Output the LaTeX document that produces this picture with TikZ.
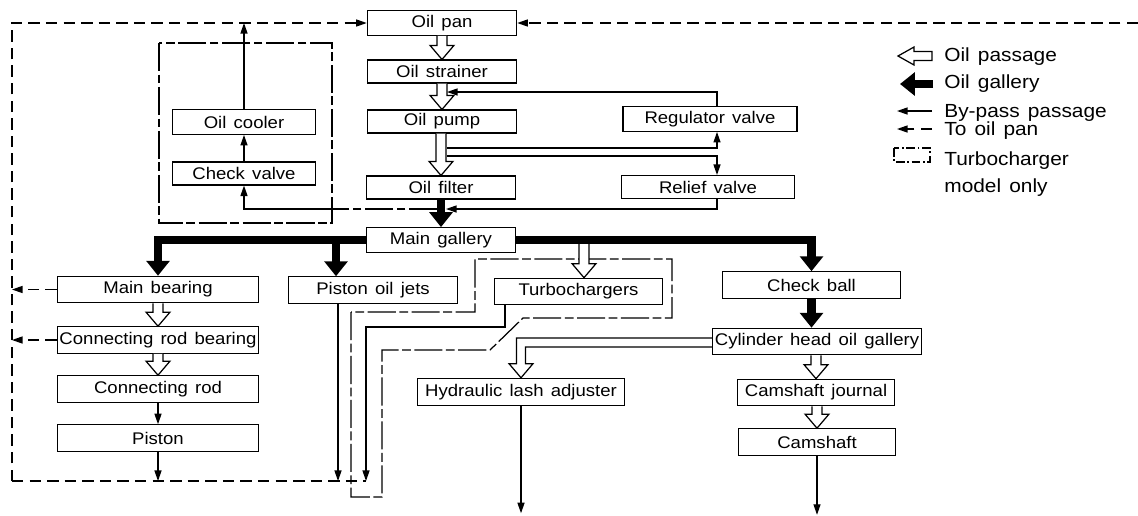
\documentclass[tikz,border=0pt]{standalone}
\usepackage{fontspec}
\setmainfont[FakeStretch=1.1, WordSpace=1.4]{Liberation Sans}
\usetikzlibrary{arrows.meta,calc}

\tikzset{box_style/.style={draw, line width=0.7pt, inner sep=0pt, minimum height=14pt, font=\fontsize{9.6}{11}\selectfont}}
\tikzset{gallery_style/.style={line width=5pt, -{Triangle[width=13pt,length=8.5pt]}}}
\tikzset{bypass_style/.style={line width=0.7pt, -{Triangle[width=4pt,length=6pt]}}}
\tikzset{pan_line/.style={line width=0.7pt, dash pattern=on 6.5pt off 3.5pt}}
\tikzset{return_style/.style={pan_line, -{Triangle[width=4pt,length=6pt]}}}
\tikzset{turbo_style/.style={line width=0.7pt, dash pattern=on 16pt off 2pt on 5pt off 2pt}}
\tikzset{legend_style/.style={anchor=base west, inner sep=0pt, font=\fontsize{10.8}{12}\selectfont}}

% hollow oil passage arrow, pointing down from #1 to #2
\newcommand{\oilpassage}[2]{%
  \draw[line width=0.7pt, fill=white] let \p1=#1, \p2=#2 in
    (\x2-2.8pt,\y1) -- (\x2-2.8pt,\y2+8pt) -- (\x2-6.8pt,\y2+8pt) -- (\x2,\y2)
    -- (\x2+6.8pt,\y2+8pt) -- (\x2+2.8pt,\y2+8pt) -- (\x2+2.8pt,\y1);}

\begin{document}
\begin{tikzpicture}[x=0.02cm, y=-0.02cm]
    \useasboundingbox (0,0) rectangle (1138,515);

    % turbocharger model only
    \draw[turbo_style] (159,43) rectangle (332,223);
    \draw[turbo_style] (351,312) -- (351,497) -- (382,497) -- (382,350) -- (490,350)
        -- (523,318) -- (672,318) -- (672,259) -- (475,259) -- (475,312) -- cycle;

    \node[box_style, minimum width=85pt] (pan) at (442,23) {Oil pan};
    \node[box_style, minimum width=85pt, minimum height=13pt] (strainer) at (442,71.5) {Oil strainer};
    \node[box_style, minimum width=85pt, minimum height=13pt] (pump) at (442,121.5) {Oil pump};
    \node[box_style, minimum width=85pt, minimum height=13pt] (filter) at (441,187.5) {Oil filter};
    \node[box_style, minimum width=84.5pt] (gallery) at (441,240) {Main gallery};
    \node[box_style, minimum width=99pt] (regulator) at (710,119) {Regulator valve};
    \node[box_style, minimum width=98.5pt, minimum height=13pt] (relief) at (708,187) {Relief valve};
    \node[box_style, minimum width=81.5pt] (cooler) at (244,122) {Oil cooler};
    \node[box_style, minimum width=81.5pt, minimum height=13pt] (checkv) at (244,173.5) {Check valve};
    \node[box_style, minimum width=114.5pt, minimum height=15pt] (bearing) at (158,289.5) {Main bearing};
    \node[box_style, minimum width=114.5pt, minimum height=15pt] (rodbearing) at (158,340) {Connecting rod bearing};
    \node[box_style, minimum width=114.5pt, minimum height=15pt] (rod) at (158,389) {Connecting rod};
    \node[box_style, minimum width=114.5pt, minimum height=15pt] (piston) at (158,438) {Piston};
    \node[box_style, minimum width=96pt, minimum height=15pt] (jets) at (373,290) {Piston oil jets};
    \node[box_style, minimum width=96pt, minimum height=15pt] (turbo) at (578.5,291.5) {Turbochargers};
    \node[box_style, minimum width=101.5pt, minimum height=15pt] (checkball) at (811.5,285) {Check ball};
    \node[box_style, minimum width=119pt, minimum height=15pt] (cylhead) at (817,341.5) {Cylinder head oil gallery};
    \node[box_style, minimum width=89.5pt, minimum height=15pt] (journal) at (816,392.5) {Camshaft journal};
    \node[box_style, minimum width=89.5pt, minimum height=15pt] (camshaft) at (817,442) {Camshaft};
    \node[box_style, minimum width=118pt, minimum height=15.5pt] (lash) at (521,392) {Hydraulic lash adjuster};

    \coordinate (ret_tl) at (12,23);
    \coordinate (ret_bl) at (12,481);
    \coordinate (valve_x) at (717,0);
    \coordinate (jets_in) at (336,240);
    \coordinate (jets_x) at (338,0);
    \coordinate (turbo_in) at (584,244);
    \coordinate (turbo_x) at (505,0);

    % oil gallery
    \draw[gallery_style] (filter.south) -- (gallery.north);
    \draw[gallery_style] (gallery.west) -| (bearing.north);
    \draw[gallery_style] (gallery.east) -| (checkball.north);
    \draw[gallery_style] (jets_in) -- (jets_in |- jets.north);
    \draw[gallery_style] (checkball.south) -- (cylhead.north -| checkball.south);

    % oil passages
    \oilpassage{(pan.south)}{(strainer.north)}
    \oilpassage{(strainer.south)}{(pump.north)}
    \oilpassage{(pump.south)}{(filter.north)}
    \oilpassage{(turbo_in)}{(turbo_in |- turbo.north)}
    \oilpassage{(bearing.south)}{(rodbearing.north)}
    \oilpassage{(rodbearing.south)}{(rod.north)}
    \oilpassage{(cylhead.south)}{(journal.north)}
    \oilpassage{(journal.south)}{(camshaft.north)}
    \draw[line width=0.7pt, fill=white] let \p1=(cylhead.west), \p2=(lash.north) in
        (\x1,\y1+2pt) -- (\x2-2.6pt,\y1+2pt) -- (\x2-2.6pt,\y2+8pt) -- (\x2-6.8pt,\y2+8pt) -- (\x2,\y2)
        -- (\x2+6.8pt,\y2+8pt) -- (\x2+2.6pt,\y2+8pt) -- (\x2+2.6pt,\y1-3.1pt) -- (\x1,\y1-3.1pt);

    % by-pass passages
    \draw[bypass_style] (regulator.north -| valve_x) |- (447,92);
    \draw[bypass_style] (447,148) -| (regulator.south -| valve_x);
    \draw[bypass_style] (447,156) -| (relief.north -| valve_x);
    \draw[bypass_style] (relief.south -| valve_x) |- (446,209);
    \draw[turbo_style] (437,209) -- (332,209);
    \draw[bypass_style] (332,209) -| (checkv.south);
    \draw[bypass_style] (checkv.north) -- (cooler.south);
    \draw[bypass_style] (cooler.north) -- (cooler.north |- pan.west);
    \draw[bypass_style] (rod.south) -- (piston.north);

    % to oil pan
    \draw[return_style] (ret_bl) -- (ret_tl) -- (pan.west);
    \draw[pan_line] (ret_bl) -- (366,481);
    \draw[return_style] (1138,23) -- (pan.east);
    \draw[return_style] (bearing.west) -- (bearing.west -| ret_tl);
    \draw[return_style] (rodbearing.west) -- (rodbearing.west -| ret_tl);
    \draw[bypass_style] (piston.south) -- (piston.south |- ret_bl);
    \draw[bypass_style] (jets.south -| jets_x) -- (jets_x |- ret_bl);
    \draw[bypass_style] (turbo.south -| turbo_x) |- (366,327) -- (366,481);
    \draw[bypass_style] (camshaft.south) -- ++(0,59);
    \draw[bypass_style] (lash.south) -- ++(0,107);

    % legend
    \node[legend_style] (l_passage) at (944,61) {Oil passage};
    \node[legend_style] (l_gallery) at (944,88) {Oil gallery};
    \node[legend_style] (l_bypass) at (944,117) {By-pass passage};
    \node[legend_style] (l_return) at (944,135) {To oil pan};
    \node[legend_style] (l_turbo) at (944,165) {Turbocharger};
    \node[legend_style] (l_model) at (944,192) {model only};
    \draw[line width=0.7pt] (932,51.5) -- (914,51.5) -- (914,47) -- (898,56) -- (914,65) -- (914,60.5) -- (932,60.5) -- cycle;
    \draw[gallery_style] (933,84) -- (900,84);
    \draw[bypass_style] (932,111) -- (897,111);
    \draw[return_style] (932,129) -- (897,129);
    \draw[line width=0.7pt, dash pattern=on 5pt off 1.5pt on 1pt off 1.5pt] (894,148) rectangle (930,162);
\end{tikzpicture}
\end{document}
